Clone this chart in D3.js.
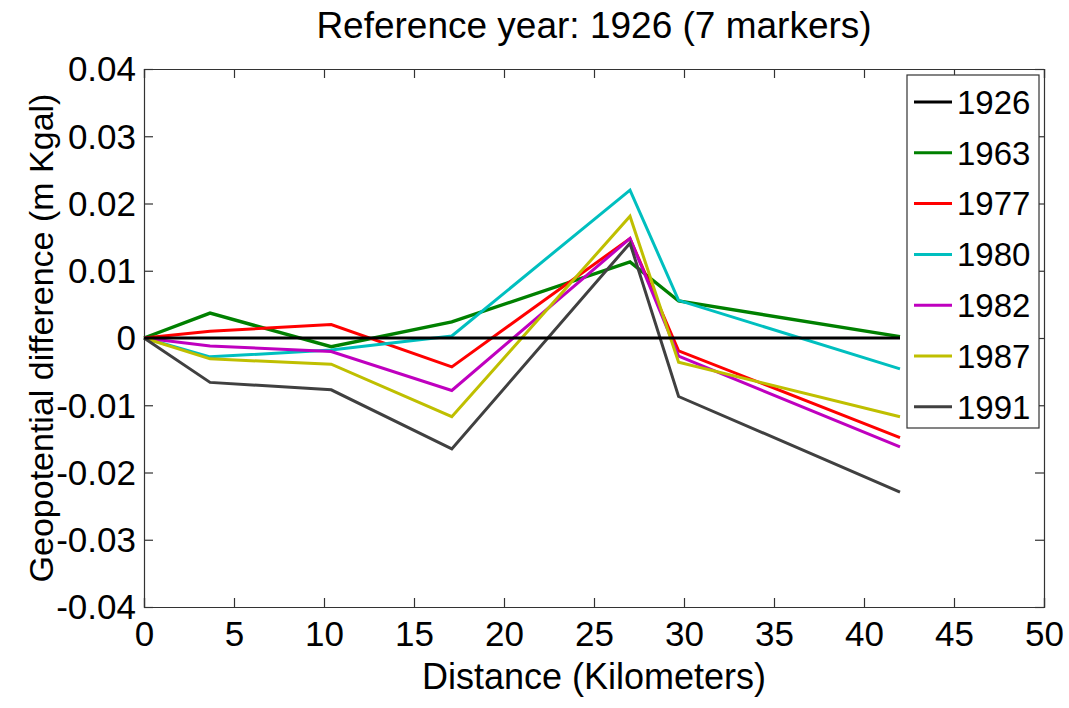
<!DOCTYPE html>
<html>
<head>
<meta charset="utf-8">
<script src="https://cdn.jsdelivr.net/npm/d3@7"></script>
<style>
  body { margin: 0; background: #fff; }
  text { font-family: "Liberation Sans", Arial, sans-serif; fill: #000; }
</style>
</head>
<body>
<svg id="chart"></svg>
<script>
// distances along the line (km)
var distance = [0, 3.67, 10.4, 17.1, 27.0, 29.7, 42.0];

var years = ["1926", "1963", "1977", "1980", "1982", "1987", "1991"];
var colors = ["#000000", "#008000", "#ff0000", "#00bfbf", "#bf00bf", "#bfbf00", "#404040"];

// geopotential difference relative to 1926
var v1926 = [0, 0, 0, 0, 0, 0, 0];
var v1963 = [0, 0.0037, -0.0013, 0.0024, 0.0113, 0.0055, 0.0002];
var v1977 = [0, 0.0010, 0.0020, -0.0043, 0.0148, -0.0019, -0.0148];
var v1980 = [0, -0.0028, -0.0018, 0.0003, 0.0220, 0.0056, -0.0046];
var v1982 = [0, -0.0012, -0.0020, -0.0078, 0.0148, -0.0027, -0.0162];
var v1987 = [0, -0.0031, -0.0039, -0.0117, 0.0181, -0.0036, -0.0117];
var v1991 = [0, -0.0066, -0.0077, -0.0165, 0.0141, -0.0087, -0.0229];

var xTicks = [0, 5, 10, 15, 20, 25, 30, 35, 40, 45, 50];
var yTicks = [-0.04, -0.03, -0.02, -0.01, 0, 0.01, 0.02, 0.03, 0.04];

var series = [v1926, v1963, v1977, v1980, v1982, v1987, v1991];

var width = 1069, height = 708;
var margin = {top: 69, right: 25, bottom: 101, left: 144};
var w = width - margin.left - margin.right,
    h = height - margin.top - margin.bottom;

var svg = d3.select("#chart")
    .attr("width", width)
    .attr("height", height);

var x = d3.scaleLinear().domain([0, 50]).range([0, w]);
var y = d3.scaleLinear().domain([-0.04, 0.04]).range([h, 0]);

var g = svg.append("g")
    .attr("transform", "translate(" + margin.left + "," + margin.top + ")");

var fmtY = function (d) {
  if (Math.abs(d) < 1e-9) return "0";
  return d3.format(".2f")(d).replace("\u2212", "-");
};

// axes, matlab style: inward ticks on all four sides
var tickLen = 9;
var axisColor = "#333";

var xAxis = g.append("g")
    .attr("transform", "translate(0," + h + ")")
    .call(d3.axisBottom(x).tickValues(xTicks).tickSize(-tickLen).tickPadding(15).tickFormat(d3.format("d")));
var xTop = g.append("g")
    .call(d3.axisTop(x).tickValues(xTicks).tickSize(-tickLen).tickFormat(""));
var yAxis = g.append("g")
    .call(d3.axisLeft(y).tickValues(yTicks).tickSize(-tickLen).tickPadding(8).tickFormat(fmtY));
var yRight = g.append("g")
    .attr("transform", "translate(" + w + ",0)")
    .call(d3.axisRight(y).tickValues(yTicks).tickSize(-tickLen).tickFormat(""));

[xAxis, xTop, yAxis, yRight].forEach(function (a) {
  a.select(".domain").attr("stroke", axisColor).attr("stroke-width", 1.2);
  a.selectAll(".tick line").attr("stroke", axisColor).attr("stroke-width", 1.2);
  a.selectAll(".tick text")
      .attr("font-size", 35)
      .attr("font-family", "Liberation Sans, Arial, sans-serif")
      .attr("fill", "#000");
});
xAxis.selectAll(".tick text").attr("dy", "0.68em");
yAxis.selectAll(".tick text").attr("dy", "0.34em");

// lines
var line = d3.line()
    .x(function (d, i) { return x(distance[i]); })
    .y(function (d) { return y(d); });

var order = [1, 2, 3, 4, 5, 6, 0];
order.forEach(function (k) {
  g.append("path")
      .datum(series[k])
      .attr("fill", "none")
      .attr("stroke", colors[k])
      .attr("stroke-width", k === 1 ? 3.4 : 3)
      .attr("stroke-linejoin", "miter")
      .attr("d", line);
});

// legend
var legend = svg.append("g").attr("transform", "translate(907,75)");
legend.append("rect")
    .attr("width", 132)
    .attr("height", 353)
    .attr("fill", "#fff")
    .attr("stroke", axisColor)
    .attr("stroke-width", 1.2);

var items = legend.selectAll(".item")
    .data(years)
  .enter().append("g")
    .attr("class", "item")
    .attr("transform", function (d, i) { return "translate(0," + (27 + i * 50.8) + ")"; });
items.append("line")
    .attr("x1", 7).attr("x2", 45)
    .attr("stroke", function (d, i) { return colors[i]; })
    .attr("stroke-width", 3);
items.append("text")
    .attr("x", 50)
    .attr("dy", "0.36em")
    .attr("font-size", 33)
    .text(function (d) { return d; });

// title and labels
svg.append("text")
    .attr("x", margin.left + w / 2)
    .attr("y", 38)
    .attr("text-anchor", "middle")
    .attr("font-size", 37)
    .text("Reference year: 1926 (7 markers)");

svg.append("text")
    .attr("x", margin.left + w / 2)
    .attr("y", 689)
    .attr("text-anchor", "middle")
    .attr("font-size", 36)
    .text("Distance (Kilometers)");

svg.append("text")
    .attr("transform", "translate(53," + (margin.top + h / 2) + ") rotate(-90)")
    .attr("text-anchor", "middle")
    .attr("font-size", 34)
    .text("Geopotential difference (m Kgal)");
</script>
</body>
</html>
